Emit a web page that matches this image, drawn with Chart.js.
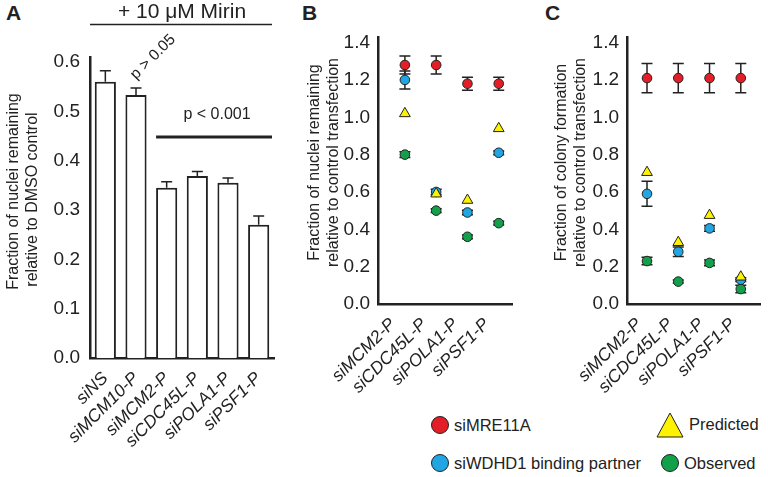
<!DOCTYPE html>
<html>
<head>
<meta charset="utf-8">
<script src="https://cdn.jsdelivr.net/npm/chart.js@4.4.1/dist/chart.umd.min.js"></script>
<style>
  body { margin: 0; width: 768px; height: 477px; background: #fff; position: relative; overflow: hidden;
         font-family: "Liberation Sans", Arial, sans-serif; color: #222; }
  .panel { position: absolute; top: 0; }
  .tag { position: absolute; font-weight: bold; font-size: 21px; top: 1px; }
  .legend { position: absolute; font-size: 16.5px; display: flex; align-items: center; }
  .legend svg { margin-right: 4px; }
</style>
</head>
<body>
<div class="tag" style="left:6px">A</div>
<div class="tag" style="left:302px">B</div>
<div class="tag" style="left:545px">C</div>

<div class="panel" style="left:0;width:285px;height:477px"><canvas id="chartA"></canvas></div>
<div class="panel" style="left:295px;width:225px;height:400px"><canvas id="chartB"></canvas></div>
<div class="panel" style="left:537px;width:231px;height:400px"><canvas id="chartC"></canvas></div>

<div class="legend" style="left:430px;top:415px">
  <svg width="20" height="20"><circle cx="10" cy="10" r="8.5" fill="#e31e26" stroke="#222" stroke-width="1"/></svg>siMRE11A
</div>
<div class="legend" style="left:430px;top:453px">
  <svg width="20" height="20"><circle cx="10" cy="10" r="8.5" fill="#21a6e3" stroke="#222" stroke-width="1"/></svg>siWDHD1 binding partner
</div>
<div class="legend" style="left:655px;top:411px">
  <svg width="30" height="27"><polygon points="15,2 28,26 2,26" fill="#fff200" stroke="#222" stroke-width="1"/></svg>Predicted
</div>
<div class="legend" style="left:660px;top:453px">
  <svg width="20" height="20"><circle cx="10" cy="10" r="8.5" fill="#13a04b" stroke="#222" stroke-width="1"/></svg>Observed
</div>

<script>
// Panel A: bars with + 10 uM Mirin
const catsA = ['siNS', 'siMCM10-P', 'siMCM2-P', 'siCDC45L-P', 'siPOLA1-P', 'siPSF1-P'];
const valsA = [0.56, 0.533, 0.345, 0.369, 0.355, 0.27];
const errA = [0.022, 0.014, 0.012, 0.009, 0.01, 0.018];
const ticksA = [0, 0.1, 0.2, 0.3, 0.4, 0.5, 0.6];

// Panels B and C share categories
const catsBC = ['siMCM2-P', 'siCDC45L-P', 'siPOLA1-P', 'siPSF1-P'];
const ticksBC = [0, 0.2, 0.4, 0.6, 0.8, 1.0, 1.2, 1.4];

// Panel B: nuclei remaining
const bMre11 = [1.28, 1.28, 1.18, 1.18];
const bMre11Err = [0.048, 0.048, 0.035, 0.035];
const bPartner = [1.2, 0.6, 0.49, 0.81];
const bPartnerErr = [0.048, 0.015, 0.012, 0.01];
const bPredicted = [1.02, 0.59, 0.556, 0.94];
const bObserved = [0.8, 0.5, 0.36, 0.433];
const bObservedErr = [0.015, 0.01, 0.01, 0.01];

// Panel C: colony formation
const cMre11 = [1.21, 1.21, 1.21, 1.21];
const cMre11Err = [0.078, 0.078, 0.078, 0.078];
const cPartner = [0.59, 0.28, 0.405, 0.13];
const cPartnerErr = [0.067, 0.025, 0.015, 0.01];
const cPredicted = [0.705, 0.33, 0.475, 0.145];
const cObserved = [0.23, 0.12, 0.22, 0.08];
const cObservedErr = [0.02, 0.008, 0.015, 0.02];

const INK = '#222';
const FONT = '"Liberation Sans", Arial, sans-serif';
Chart.defaults.font.family = FONT;
Chart.defaults.color = INK;
Chart.defaults.animation = false;

const RED = '#e31e26', BLUE = '#21a6e3', YELLOW = '#fff200', GREEN = '#13a04b';
const EM = '\u2003';

// error bars, read from dataset.errors
function drawErrors(chart, capHalf) {
    const { ctx, scales: { y } } = chart;
    ctx.save();
    ctx.strokeStyle = INK;
    ctx.lineWidth = 1.5;
    chart.data.datasets.forEach((ds, i) => {
        if (!ds.errors) return;
        chart.getDatasetMeta(i).data.forEach((el, j) => {
            const raw = ds.data[j];
            const v = typeof raw === 'object' ? raw.y : raw;
            const e = ds.errors[j];
            const top = y.getPixelForValue(v + e);
            const bot = ds.upOnly ? el.y : y.getPixelForValue(v - e);
            ctx.beginPath();
            ctx.moveTo(el.x, top); ctx.lineTo(el.x, bot);
            ctx.moveTo(el.x - capHalf, top); ctx.lineTo(el.x + capHalf, top);
            if (!ds.upOnly) { ctx.moveTo(el.x - capHalf, bot); ctx.lineTo(el.x + capHalf, bot); }
            ctx.stroke();
        });
    });
    ctx.restore();
}

const errorBarsAbove = { id: 'errAbove', afterDatasetsDraw(chart) { drawErrors(chart, 5.5); } };
const errorBarsBelow = { id: 'errBelow', beforeDatasetsDraw(chart) { drawErrors(chart, 5.5); } };

// Mirin header and p-value notes on panel A
const mirinNotes = {
    id: 'mirinNotes',
    afterDraw(chart) {
        const { ctx, chartArea: a, scales: { y } } = chart;
        const bars = chart.getDatasetMeta(0).data;
        ctx.save();
        ctx.fillStyle = INK;
        ctx.strokeStyle = INK;
        ctx.textAlign = 'center';
        ctx.textBaseline = 'middle';

        ctx.font = '21px ' + FONT;
        ctx.fillText('+ 10 \u03bcM Mirin', (a.left + a.right) / 2, 12);
        ctx.lineWidth = 1.5;
        ctx.beginPath();
        ctx.moveTo(a.left, 24.5); ctx.lineTo(a.right - 2, 24.5);
        ctx.stroke();

        // p > 0.05 rotated
        ctx.save();
        ctx.translate(bars[1].x + 17, a.top);
        ctx.rotate(-Math.PI / 4);
        ctx.font = '15.5px ' + FONT;
        ctx.fillText('p > 0.05', 0, 0);
        ctx.restore();

        // p < 0.001 over the last four bars
        const x0 = bars[2].x - bars[2].width / 2;
        const ly = y.getPixelForValue(0.448);
        ctx.lineWidth = 3;
        ctx.beginPath();
        ctx.moveTo(x0, ly); ctx.lineTo(a.right - 2, ly);
        ctx.stroke();
        ctx.font = '16px ' + FONT;
        ctx.fillText('p < 0.001', (x0 + a.right) / 2 + 2, y.getPixelForValue(0.493));
        ctx.restore();
    }
};

const tickFont = { size: 19 };
const catFont = { size: 17.5, style: 'italic' };
const titleFont = { size: 16 };
const axisBorder = { display: true, color: INK, width: 2.5 };

// Panel A
new Chart(document.getElementById('chartA'), {
    type: 'bar',
    data: {
        labels: catsA,
        datasets: [{
            data: valsA,
            errors: errA,
            upOnly: true,
            backgroundColor: '#fff',
            borderColor: INK,
            borderWidth: 2,
            barPercentage: 0.69,
            categoryPercentage: 1
        }]
    },
    options: {
        responsive: true,
        maintainAspectRatio: false,
        layout: { padding: { top: 57, right: 11, left: 0, bottom: 0 } },
        plugins: { legend: { display: false }, tooltip: { enabled: false } },
        scales: {
            x: {
                grid: { display: false },
                border: axisBorder,
                ticks: { font: catFont, minRotation: 45, maxRotation: 45, autoSkip: false, padding: 2 },
                afterFit(s) { s.height = 119; }
            },
            y: {
                min: 0, max: 0.61,
                grid: { display: false },
                border: axisBorder,
                afterBuildTicks(s) { s.ticks = ticksA.map(v => ({ value: v })); },
                ticks: { font: tickFont, padding: 2, callback: v => v.toFixed(1) },
                title: { display: true,
                         text: [EM + EM + 'Fraction of nuclei remaining', EM + 'relative to DMSO control'],
                         font: titleFont, padding: { top: 3.5, bottom: 2 } },
                afterFit(s) { s.width = 90; }
            }
        }
    },
    plugins: [errorBarsAbove, mirinNotes]
});

function pts(vals) {
    return vals.map((v, i) => ({ x: i + 1, y: v }));
}

function dotChart(id, series, xMin, xMax, labelShift, yTitle, titlePad, yWidth, padRight) {
    const mk = (vals, errs, color, style, r) => ({
        data: pts(vals),
        errors: errs,
        pointStyle: style,
        pointRadius: r,
        pointBackgroundColor: color,
        pointBorderColor: INK,
        pointBorderWidth: 1,
        showLine: false
    });
    return new Chart(document.getElementById(id), {
        type: 'scatter',
        data: {
            datasets: [
                mk(series.mre11, series.mre11Err, RED, 'circle', 4.8),
                mk(series.predicted, null, YELLOW, 'triangle', 6.2),
                mk(series.partner, series.partnerErr, BLUE, 'circle', 4.8),
                mk(series.observed, series.observedErr, GREEN, 'circle', 4.8)
            ]
        },
        options: {
            responsive: true,
            maintainAspectRatio: false,
            layout: { padding: { top: 37, right: padRight, left: 0, bottom: 0 } },
            plugins: { legend: { display: false }, tooltip: { enabled: false } },
            scales: {
                x: {
                    type: 'linear', min: xMin, max: xMax,
                    grid: { display: false },
                    border: axisBorder,
                    afterBuildTicks(s) { s.ticks = catsBC.map((c, i) => ({ value: i + 1 })); },
                    ticks: { font: catFont, minRotation: 45, maxRotation: 45, autoSkip: false,
                             padding: 2, labelOffset: labelShift, callback: v => catsBC[v - 1] },
                    afterFit(s) { s.height = 96; }
                },
                y: {
                    min: 0, max: 1.43,
                    grid: { display: false },
                    border: axisBorder,
                    afterBuildTicks(s) { s.ticks = ticksBC.map(v => ({ value: v })); },
                    ticks: { font: tickFont, padding: 0, callback: v => v.toFixed(1) },
                    title: { display: true, text: yTitle.map(t => EM + t), font: titleFont,
                             padding: { top: titlePad, bottom: 2 } },
                    afterFit(s) { s.width = yWidth; }
                }
            }
        },
        plugins: [errorBarsBelow]
    });
}

dotChart('chartB', {
    mre11: bMre11, mre11Err: bMre11Err,
    partner: bPartner, partnerErr: bPartnerErr,
    predicted: bPredicted,
    observed: bObserved, observedErr: bObservedErr
}, 0.14, 4.45, -12, ['Fraction of nuclei remaining', 'relative to control transfection'], 10, 83, 7);

dotChart('chartC', {
    mre11: cMre11, mre11Err: cMre11Err,
    partner: cPartner, partnerErr: cPartnerErr,
    predicted: cPredicted,
    observed: cObserved, observedErr: cObservedErr
}, 0.36, 4.64, -8, ['Fraction of colony formation', 'relative to control transfection'], 15, 90, 1);
</script>
</body>
</html>
